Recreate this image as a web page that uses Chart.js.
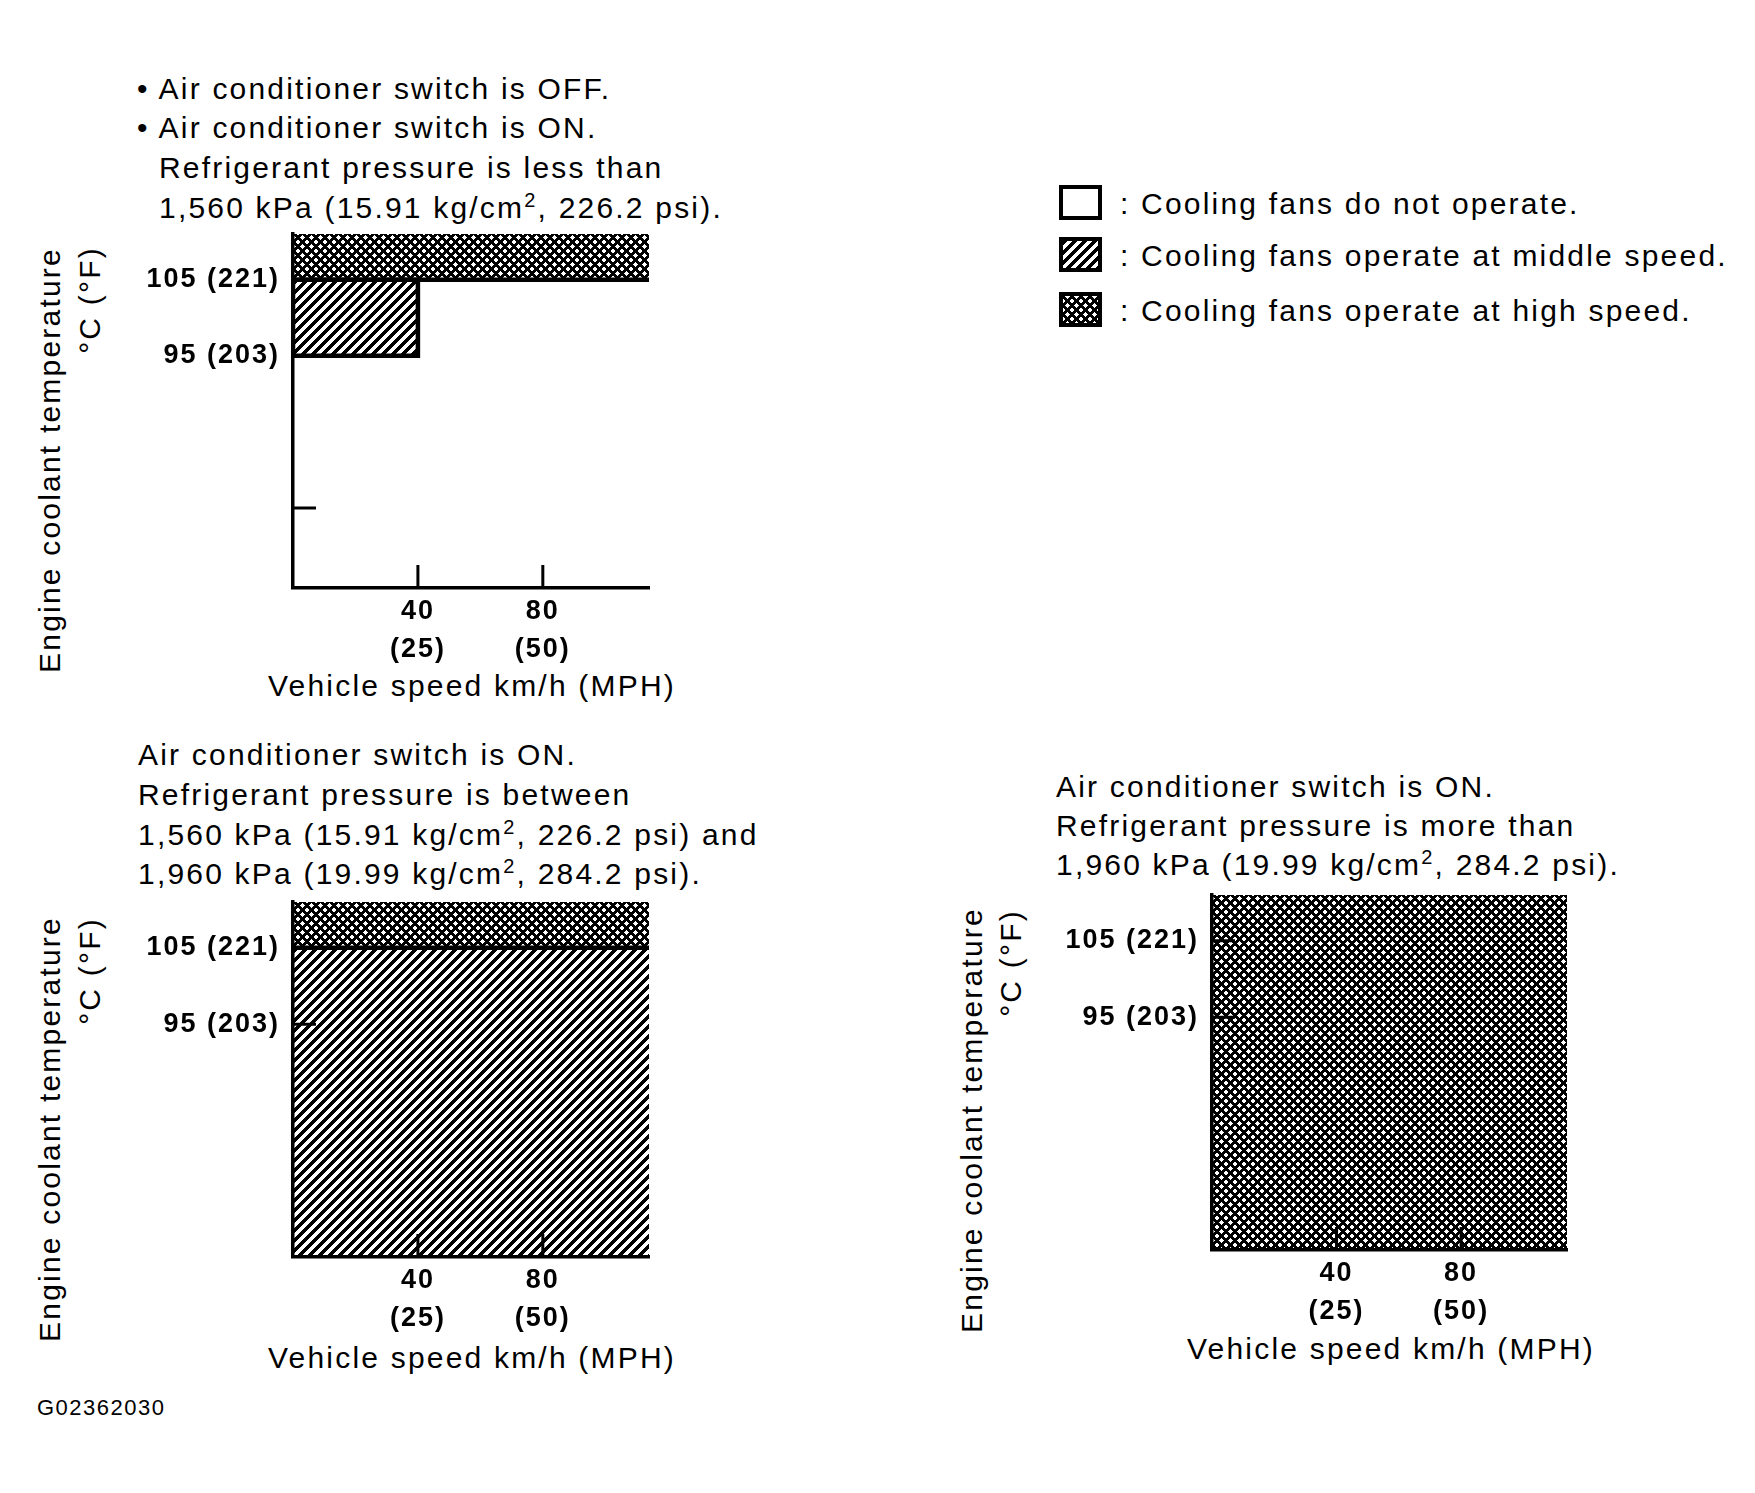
<!DOCTYPE html>
<html>
<head>
<meta charset="utf-8">
<title>Cooling fan operation</title>
<script src="https://cdn.jsdelivr.net/npm/chart.js@4.4.1/dist/chart.umd.min.js"></script>
<style>
    html, body { margin: 0; padding: 0; background: #fff; }
    body {
        width: 1755px; height: 1493px; position: relative; overflow: hidden;
        font-family: "Liberation Sans", Arial, Helvetica, sans-serif; color: #000;
    }
    .txt { position: absolute; font-size: 30px; line-height: 40px; letter-spacing: 2.2px; white-space: nowrap; }
    .ctr { transform: translate(-50%, -50%); }
    .rot { transform: translate(-50%, -50%) rotate(-90deg); }
    sup { font-size: 20px; line-height: 0; vertical-align: 11px; }
    canvas { position: absolute; }
    #code { position: absolute; left: 37px; top: 1396px; font-size: 22px; line-height: 24px; letter-spacing: 1.5px; }
</style>
</head>
<body>

<!-- Chart 1 notes -->
<div class="txt" style="left:137px; top:69px;">• Air conditioner switch is OFF.</div>
<div class="txt" style="left:137px; top:108px;">• Air conditioner switch is ON.</div>
<div class="txt" style="left:159px; top:148px;">Refrigerant pressure is less than</div>
<div class="txt" style="left:159px; top:188px;">1,560 kPa (15.91 kg/cm<sup>2</sup>, 226.2 psi).</div>

<!-- Chart 2 notes -->
<div class="txt" style="left:138px; top:735px;">Air conditioner switch is ON.</div>
<div class="txt" style="left:138px; top:775px;">Refrigerant pressure is between</div>
<div class="txt" style="left:138px; top:815px;">1,560 kPa (15.91 kg/cm<sup>2</sup>, 226.2 psi) and</div>
<div class="txt" style="left:138px; top:854px;">1,960 kPa (19.99 kg/cm<sup>2</sup>, 284.2 psi).</div>

<!-- Chart 3 notes -->
<div class="txt" style="left:1056px; top:767px;">Air conditioner switch is ON.</div>
<div class="txt" style="left:1056px; top:806px;">Refrigerant pressure is more than</div>
<div class="txt" style="left:1056px; top:845px;">1,960 kPa (19.99 kg/cm<sup>2</sup>, 284.2 psi).</div>

<!-- Legend -->
<canvas id="swatchOff" width="43" height="35" style="left:1059px; top:185px;"></canvas>
<canvas id="swatchMid" width="43" height="35" style="left:1059px; top:237px;"></canvas>
<canvas id="swatchHigh" width="43" height="35" style="left:1059px; top:292px;"></canvas>
<div class="txt" style="left:1120px; top:184px;">: Cooling fans do not operate.</div>
<div class="txt" style="left:1120px; top:236px;">: Cooling fans operate at middle speed.</div>
<div class="txt" style="left:1120px; top:291px;">: Cooling fans operate at high speed.</div>

<!-- Axis titles -->
<div class="txt rot" style="left:50px; top:460px;">Engine coolant temperature</div>
<div class="txt rot" style="left:90px; top:300px;">°C (°F)</div>
<div class="txt ctr" style="left:472px; top:686px;">Vehicle speed km/h (MPH)</div>
<div class="txt rot" style="left:50px; top:1129px;">Engine coolant temperature</div>
<div class="txt rot" style="left:90px; top:971px;">°C (°F)</div>
<div class="txt ctr" style="left:472px; top:1358px;">Vehicle speed km/h (MPH)</div>
<div class="txt rot" style="left:972px; top:1120px;">Engine coolant temperature</div>
<div class="txt rot" style="left:1011px; top:963px;">°C (°F)</div>
<div class="txt ctr" style="left:1391px; top:1349px;">Vehicle speed km/h (MPH)</div>

<canvas id="chartLow" width="538" height="480" style="left:123px; top:224px;"></canvas>
<canvas id="chartMid" width="538" height="481" style="left:123px; top:892px;"></canvas>
<canvas id="chartHigh" width="537" height="481" style="left:1042px; top:885px;"></canvas>

<div id="code">G02362030</div>

<script>
// Axis ranges (km/h, deg C)
const speedRange = [0, 114];
const tempRange = [64.5, 111];

// Ticks
const speedTicks = [40, 80];
const speedTickLabels = [["40", "(25)"], ["80", "(50)"]];
const tempTicks = [95, 105];
const tempTickLabels = ["95 (203)", "105 (221)"];
// the first chart has one more unlabeled mark on the temperature axis
const tempTicksLow = [75, 95, 105];
const tempTickLabelsLow = ["", "95 (203)", "105 (221)"];

// Zones: speed from/to and temperature from/to
// A/C off, or pressure below 1,560 kPa
const lowMidSpeed = [0, 40];
const lowMidTemp = [95, 105];
const lowHighSpeed = [0, 114];
const lowHighTemp = [105, 111];
// pressure between 1,560 and 1,960 kPa
const midMidSpeed = [0, 114];
const midMidTemp = [64.5, 105];
const midHighSpeed = [0, 114];
const midHighTemp = [105, 111];
// pressure above 1,960 kPa
const highHighSpeed = [0, 114];
const highHighTemp = [64.5, 111];

const fontFamily = "'Liberation Sans', Arial, Helvetica, sans-serif";

document.addEventListener("DOMContentLoaded", function () {

    // Crisp hatch tiles: "/" lines, crosshatch adds "\" lines
    function makeTile(period, blackCount, cross) {
        const tile = document.createElement("canvas");
        tile.width = period;
        tile.height = period;
        const g = tile.getContext("2d");
        const img = g.createImageData(period, period);
        const shift = Math.floor(blackCount / 2);
        for (let j = 0; j < period; j++) {
            for (let i = 0; i < period; i++) {
                const d1 = (i + j + 1) % period;
                let black = (d1 + shift) % period < blackCount;
                if (cross) {
                    const d2 = ((i - j) % period + period) % period;
                    black = black || (d2 + shift) % period < blackCount;
                }
                const k = (j * period + i) * 4;
                const v = black ? 0 : 255;
                img.data[k] = v;
                img.data[k + 1] = v;
                img.data[k + 2] = v;
                img.data[k + 3] = 255;
            }
        }
        g.putImageData(img, 0, 0);
        return tile;
    }
    const midTile = makeTile(10, 5, false);
    const highTile = makeTile(9, 4, true);

    // Rectangle polygon from a zone
    function zone(speed, temp) {
        return [
            { x: speed[0], y: temp[0] },
            { x: speed[1], y: temp[0] },
            { x: speed[1], y: temp[1] },
            { x: speed[0], y: temp[1] },
            { x: speed[0], y: temp[0] }
        ];
    }
    // Lower edge of a zone
    function edge(speed, temp) {
        return [{ x: speed[0], y: temp[0] }, { x: speed[1], y: temp[0] }];
    }

    function fillSet(data, pattern) {
        return { data: data, fill: "shape", backgroundColor: pattern, borderWidth: 0, order: 2 };
    }
    function lineSet(data) {
        return { data: data, fill: false, borderColor: "#000", borderWidth: 4.5, order: 1 };
    }

    // Inward tick marks, like the printed chart
    const innerTicks = {
        id: "innerTicks",
        afterDatasetsDraw(chart) {
            const { ctx, chartArea, scales: { x, y } } = chart;
            ctx.save();
            ctx.strokeStyle = "#000";
            ctx.lineWidth = 3;
            ctx.beginPath();
            x.ticks.forEach(t => {
                const px = x.getPixelForValue(t.value);
                ctx.moveTo(px, chartArea.bottom);
                ctx.lineTo(px, chartArea.bottom - 23);
            });
            y.ticks.forEach(t => {
                const py = y.getPixelForValue(t.value);
                ctx.moveTo(chartArea.left, py);
                ctx.lineTo(chartArea.left + 23, py);
            });
            ctx.stroke();
            ctx.restore();
        }
    };
    const spacing = {
        id: "spacing",
        beforeDraw(chart) { chart.ctx.letterSpacing = "2px"; }
    };

    function makeChart(id, datasets, yTicks, yLabels) {
        const ctx = document.getElementById(id).getContext("2d");
        return new Chart(ctx, {
            type: "line",
            data: { datasets: datasets(ctx) },
            options: {
                responsive: false,
                animation: false,
                devicePixelRatio: 1,
                layout: { padding: { top: 10, right: 12, bottom: 0, left: 0 } },
                elements: { point: { radius: 0 }, line: { tension: 0 } },
                plugins: { legend: { display: false }, tooltip: { enabled: false } },
                scales: {
                    x: {
                        type: "linear",
                        min: speedRange[0],
                        max: speedRange[1],
                        afterBuildTicks: s => { s.ticks = speedTicks.map(v => ({ value: v })); },
                        afterFit: s => {
                            s.height = 116;
                            s.paddingLeft = 0;
                            s.paddingRight = 0;
                        },
                        grid: { display: false, drawTicks: false },
                        border: { display: true, color: "#000", width: 3.5, z: 1 },
                        ticks: {
                            autoSkip: false,
                            maxRotation: 0,
                            padding: 5,
                            color: "#000",
                            font: { family: fontFamily, size: 27, weight: "bold", lineHeight: 1.407 },
                            callback: (v, i) => speedTickLabels[i]
                        }
                    },
                    y: {
                        type: "linear",
                        min: tempRange[0],
                        max: tempRange[1],
                        afterBuildTicks: s => { s.ticks = yTicks.map(v => ({ value: v })); },
                        afterFit: s => {
                            s.width = 170;
                            s.paddingTop = 0;
                            s.paddingBottom = 0;
                        },
                        grid: { display: false, drawTicks: false },
                        border: { display: true, color: "#000", width: 3.5, z: 1 },
                        ticks: {
                            autoSkip: false,
                            padding: 13,
                            color: "#000",
                            font: { family: fontFamily, size: 27, weight: "bold", lineHeight: 1.2 },
                            callback: (v, i) => yLabels[i]
                        }
                    }
                }
            },
            plugins: [innerTicks, spacing]
        });
    }

    // Chart 1: A/C off or low pressure
    makeChart("chartLow", ctx => {
        const mid = ctx.createPattern(midTile, "repeat");
        const high = ctx.createPattern(highTile, "repeat");
        return [
            lineSet(edge(lowHighSpeed, lowHighTemp)),
            lineSet(zone(lowMidSpeed, lowMidTemp)),
            fillSet(zone(lowMidSpeed, lowMidTemp), mid),
            fillSet(zone(lowHighSpeed, lowHighTemp), high)
        ];
    }, tempTicksLow, tempTickLabelsLow);

    // Chart 2: pressure between 1,560 and 1,960 kPa
    makeChart("chartMid", ctx => {
        const mid = ctx.createPattern(midTile, "repeat");
        const high = ctx.createPattern(highTile, "repeat");
        return [
            lineSet(edge(midHighSpeed, midHighTemp)),
            fillSet(zone(midMidSpeed, midMidTemp), mid),
            fillSet(zone(midHighSpeed, midHighTemp), high)
        ];
    }, tempTicks, tempTickLabels);

    // Chart 3: pressure above 1,960 kPa
    makeChart("chartHigh", ctx => {
        const high = ctx.createPattern(highTile, "repeat");
        return [fillSet(zone(highHighSpeed, highHighTemp), high)];
    }, tempTicks, tempTickLabels);

    // Legend swatches
    function swatch(id, tile) {
        const c = document.getElementById(id);
        const g = c.getContext("2d");
        g.fillStyle = tile ? g.createPattern(tile, "repeat") : "#fff";
        g.fillRect(0, 0, c.width, c.height);
        g.strokeStyle = "#000";
        g.lineWidth = 4;
        g.strokeRect(2, 2, c.width - 4, c.height - 4);
    }
    swatch("swatchOff", null);
    swatch("swatchMid", midTile);
    swatch("swatchHigh", highTile);
});
</script>
</body>
</html>
